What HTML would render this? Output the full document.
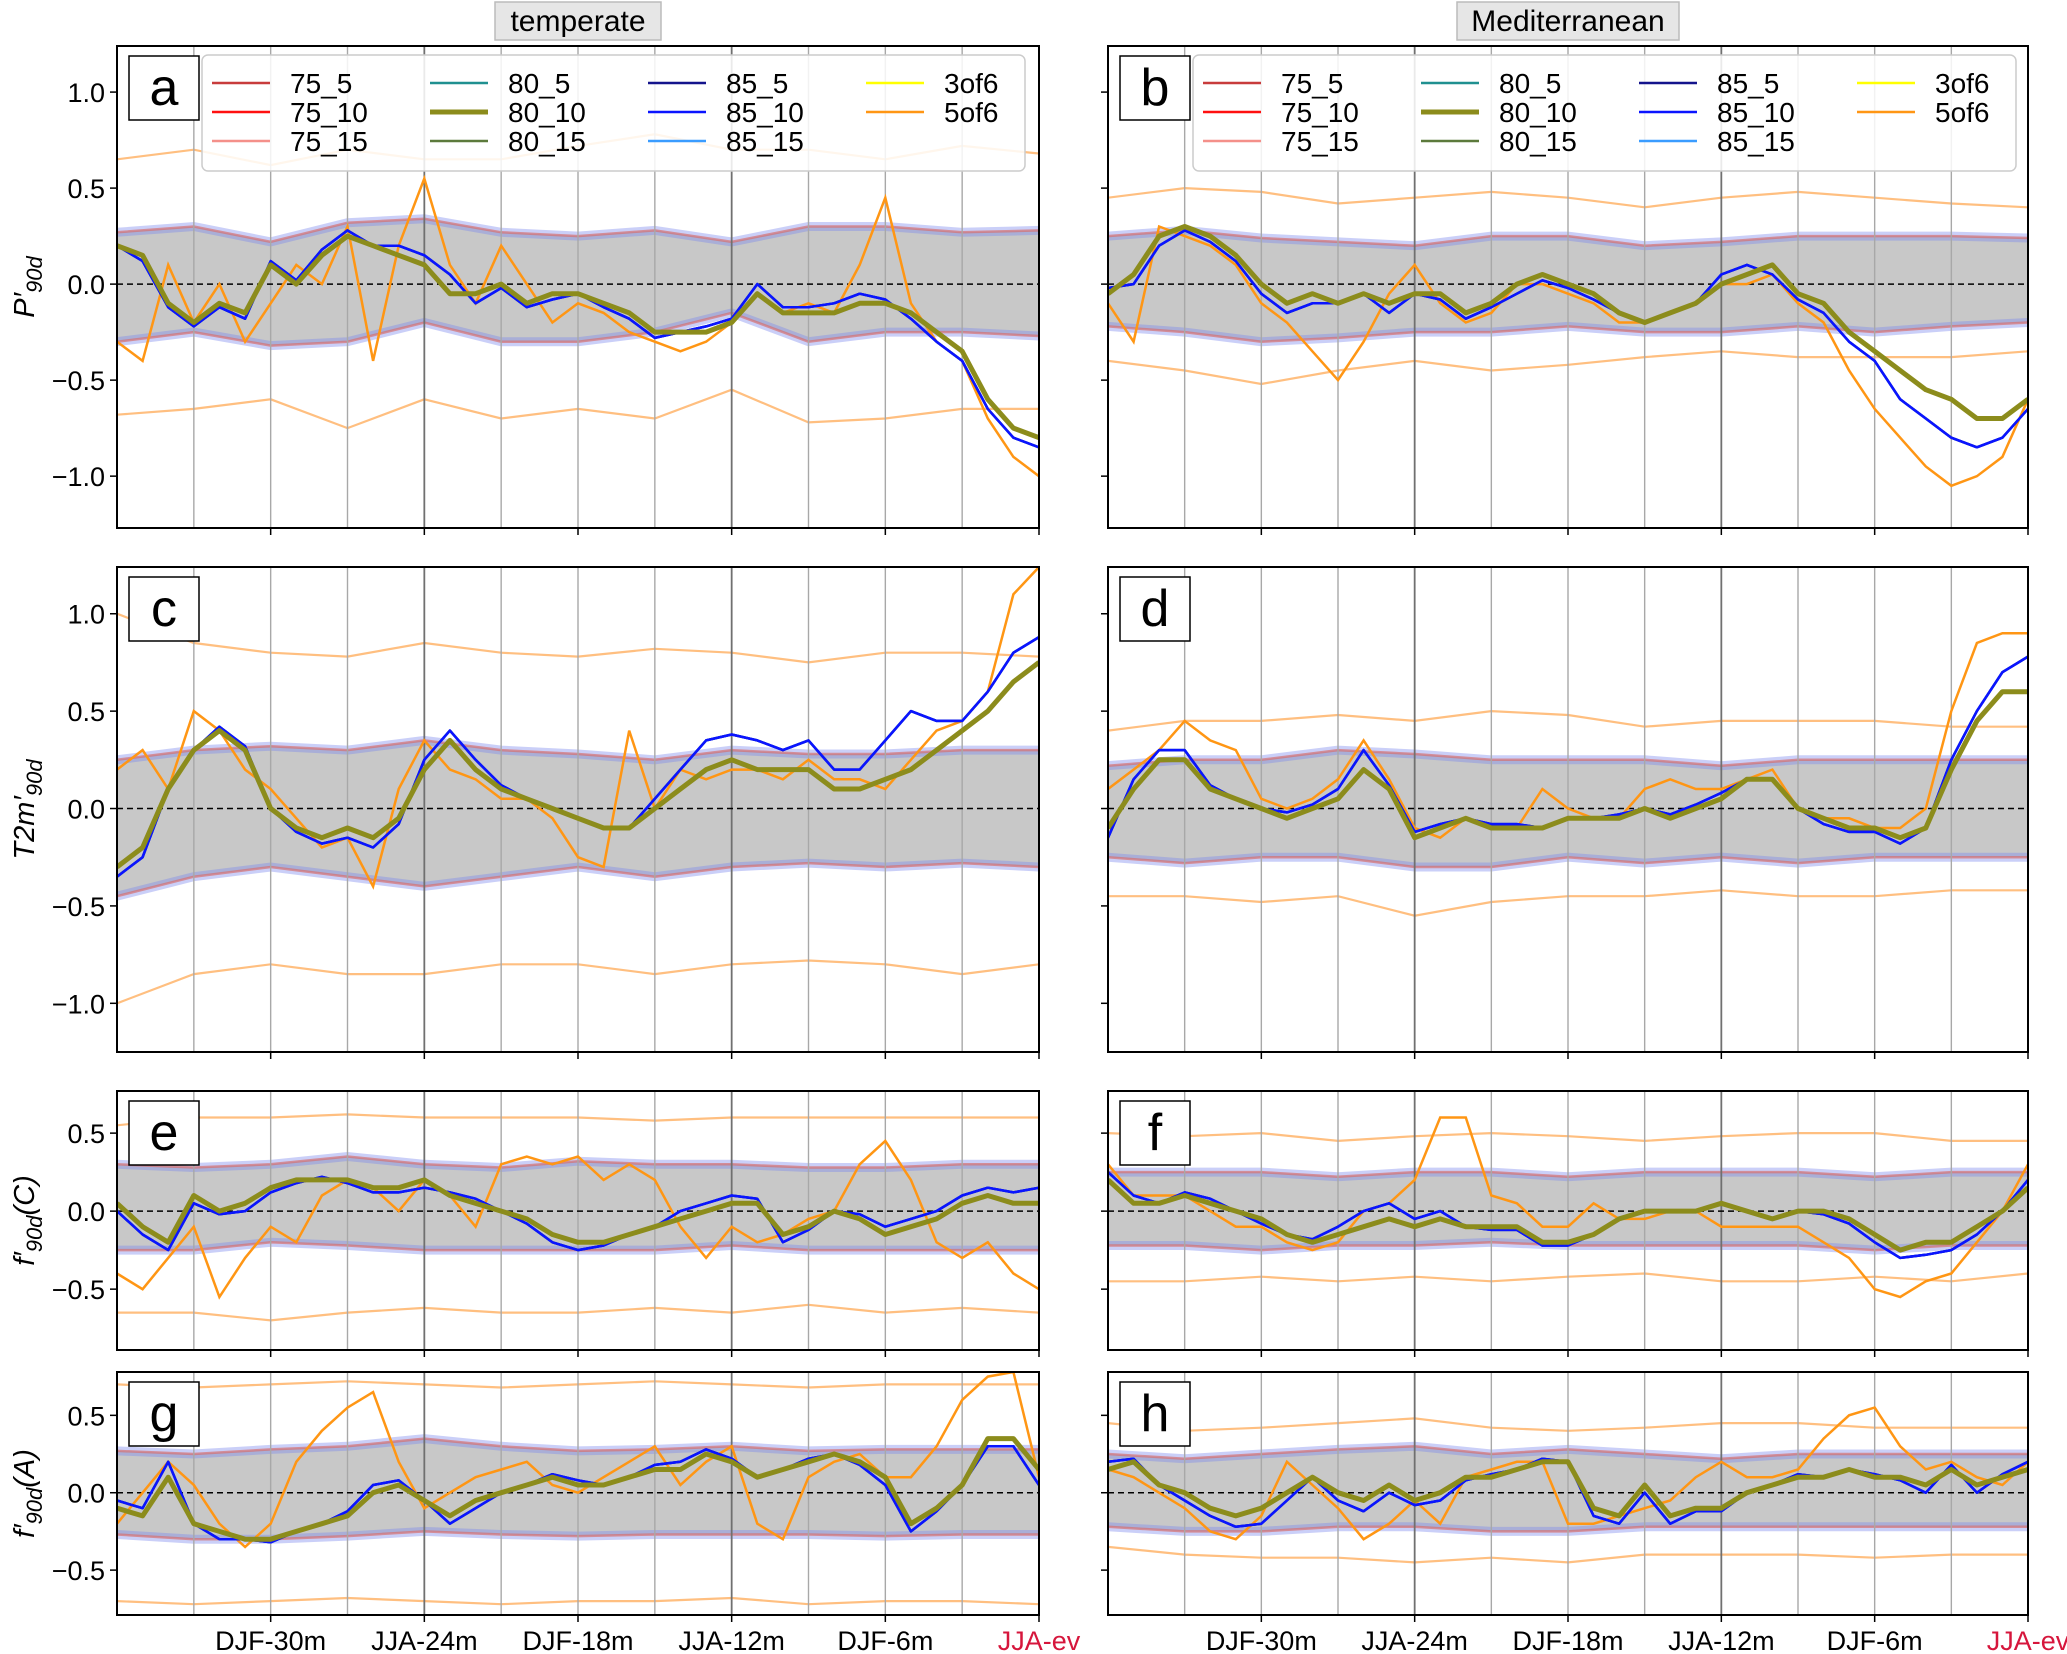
<!DOCTYPE html>
<html><head><meta charset="utf-8"><style>
html,body{margin:0;padding:0;background:#fff;}
svg{display:block;font-family:"Liberation Sans","DejaVu Sans",sans-serif;}
</style></head><body>
<svg id="fig" width="2067" height="1654" viewBox="0 0 2067 1654" xmlns="http://www.w3.org/2000/svg">
<rect x="0" y="0" width="2067" height="1654" fill="#fff"/>
<g>
<rect x="495" y="2" width="166" height="38" fill="#e6e6e6" stroke="#bbb" stroke-width="1.5"/>
<text x="578" y="31" font-size="30" text-anchor="middle" fill="#000">temperate</text></g>
<g>
<rect x="1457" y="2" width="222" height="38" fill="#e6e6e6" stroke="#bbb" stroke-width="1.5"/>
<text x="1568" y="31" font-size="30" text-anchor="middle" fill="#000">Mediterranean</text></g>
</svg>
<script>
const months = [-36,-35,-34,-33,-32,-31,-30,-29,-28,-27,-26,-25,-24,-23,-22,-21,-20,-19,-18,-17,-16,-15,-14,-13,-12,-11,-10,-9,-8,-7,-6,-5,-4,-3,-2,-1,0];
const bandMonths = [-36,-33,-30,-27,-24,-21,-18,-15,-12,-9,-6,-3,0];
const xTickMonths = [-30,-24,-18,-12,-6,0];
const xTickLabels = ["DJF-30m","JJA-24m","DJF-18m","JJA-12m","DJF-6m","JJA-ev"];
const gridMonths = [-33,-30,-27,-24,-21,-18,-15,-12,-9,-6,-3];
const darkGridMonths = [-24,-12];

const mainA = [0.2,0.15,-0.1,-0.2,-0.1,-0.15,0.1,0.0,0.15,0.25,0.2,0.15,0.1,-0.05,-0.05,0.0,-0.1,-0.05,-0.05,-0.1,-0.15,-0.25,-0.25,-0.25,-0.2,-0.05,-0.15,-0.15,-0.15,-0.1,-0.1,-0.15,-0.25,-0.35,-0.6,-0.75,-0.8];
const altA = [0.2,0.12,-0.12,-0.22,-0.12,-0.18,0.12,0.02,0.18,0.28,0.2,0.2,0.15,0.05,-0.1,-0.02,-0.12,-0.08,-0.05,-0.12,-0.18,-0.28,-0.25,-0.22,-0.18,0.0,-0.12,-0.12,-0.1,-0.05,-0.08,-0.18,-0.3,-0.4,-0.65,-0.8,-0.85];
const orangeA = [-0.3,-0.4,0.1,-0.2,0.0,-0.3,-0.1,0.1,0.0,0.3,-0.4,0.2,0.55,0.1,-0.1,0.2,0.0,-0.2,-0.1,-0.15,-0.25,-0.3,-0.35,-0.3,-0.2,-0.05,-0.15,-0.1,-0.15,0.1,0.45,-0.1,-0.3,-0.4,-0.7,-0.9,-1.0];
const bandHiA = [0.27,0.3,0.22,0.32,0.34,0.27,0.25,0.28,0.22,0.3,0.3,0.27,0.28];
const bandLoA = [-0.3,-0.25,-0.32,-0.3,-0.2,-0.3,-0.3,-0.25,-0.15,-0.3,-0.25,-0.25,-0.27];
const envHiA = [0.65,0.7,0.62,0.7,0.65,0.65,0.72,0.78,0.7,0.7,0.65,0.72,0.68];
const envLoA = [-0.68,-0.65,-0.6,-0.75,-0.6,-0.7,-0.65,-0.7,-0.55,-0.72,-0.7,-0.65,-0.65];

const mainB = [-0.05,0.05,0.25,0.3,0.25,0.15,0.0,-0.1,-0.05,-0.1,-0.05,-0.1,-0.05,-0.05,-0.15,-0.1,0.0,0.05,0.0,-0.05,-0.15,-0.2,-0.15,-0.1,0.0,0.05,0.1,-0.05,-0.1,-0.25,-0.35,-0.45,-0.55,-0.6,-0.7,-0.7,-0.6];
const altB = [-0.02,0.0,0.2,0.28,0.22,0.12,-0.05,-0.15,-0.1,-0.1,-0.05,-0.15,-0.05,-0.08,-0.18,-0.12,-0.05,0.02,-0.02,-0.08,-0.15,-0.2,-0.15,-0.1,0.05,0.1,0.05,-0.08,-0.15,-0.3,-0.4,-0.6,-0.7,-0.8,-0.85,-0.8,-0.65];
const orangeB = [-0.1,-0.3,0.3,0.25,0.2,0.1,-0.1,-0.2,-0.35,-0.5,-0.3,-0.05,0.1,-0.1,-0.2,-0.15,0.0,0.0,-0.05,-0.1,-0.2,-0.2,-0.15,-0.1,0.0,0.0,0.05,-0.1,-0.2,-0.45,-0.65,-0.8,-0.95,-1.05,-1.0,-0.9,-0.6];
const bandHiB = [0.25,0.28,0.24,0.22,0.2,0.25,0.25,0.2,0.22,0.25,0.25,0.25,0.24];
const bandLoB = [-0.22,-0.25,-0.3,-0.28,-0.25,-0.25,-0.22,-0.25,-0.25,-0.22,-0.25,-0.22,-0.2];
const envHiB = [0.45,0.5,0.48,0.42,0.45,0.48,0.45,0.4,0.45,0.48,0.45,0.42,0.4];
const envLoB = [-0.4,-0.45,-0.52,-0.45,-0.4,-0.45,-0.42,-0.38,-0.35,-0.38,-0.38,-0.38,-0.35];

const mainC = [-0.3,-0.2,0.1,0.3,0.4,0.3,0.0,-0.1,-0.15,-0.1,-0.15,-0.05,0.2,0.35,0.2,0.1,0.05,0.0,-0.05,-0.1,-0.1,0.0,0.1,0.2,0.25,0.2,0.2,0.2,0.1,0.1,0.15,0.2,0.3,0.4,0.5,0.65,0.75];
const altC = [-0.35,-0.25,0.1,0.3,0.42,0.32,0.0,-0.12,-0.18,-0.15,-0.2,-0.08,0.25,0.4,0.25,0.12,0.05,0.0,-0.05,-0.1,-0.1,0.05,0.2,0.35,0.38,0.35,0.3,0.35,0.2,0.2,0.35,0.5,0.45,0.45,0.6,0.8,0.88];
const orangeC = [0.2,0.3,0.1,0.5,0.4,0.2,0.1,-0.05,-0.2,-0.15,-0.4,0.1,0.35,0.2,0.15,0.05,0.05,-0.05,-0.25,-0.3,0.4,0.0,0.2,0.15,0.2,0.2,0.15,0.25,0.15,0.15,0.1,0.25,0.4,0.45,0.6,1.1,1.24];
const bandHiC = [0.25,0.3,0.32,0.3,0.35,0.3,0.28,0.25,0.3,0.28,0.28,0.3,0.3];
const bandLoC = [-0.45,-0.35,-0.3,-0.35,-0.4,-0.35,-0.3,-0.35,-0.3,-0.28,-0.3,-0.28,-0.3];
const envHiC = [1.0,0.85,0.8,0.78,0.85,0.8,0.78,0.82,0.8,0.75,0.8,0.8,0.78];
const envLoC = [-1.0,-0.85,-0.8,-0.85,-0.85,-0.8,-0.8,-0.85,-0.8,-0.78,-0.8,-0.85,-0.8];

const mainD = [-0.1,0.1,0.25,0.25,0.1,0.05,0.0,-0.05,0.0,0.05,0.2,0.1,-0.15,-0.1,-0.05,-0.1,-0.1,-0.1,-0.05,-0.05,-0.05,0.0,-0.05,0.0,0.05,0.15,0.15,0.0,-0.05,-0.1,-0.1,-0.15,-0.1,0.2,0.45,0.6,0.6];
const altD = [-0.15,0.15,0.3,0.3,0.12,0.05,0.0,-0.02,0.02,0.1,0.3,0.12,-0.12,-0.08,-0.05,-0.08,-0.08,-0.1,-0.05,-0.05,-0.03,0.0,-0.03,0.02,0.08,0.15,0.15,0.0,-0.08,-0.12,-0.12,-0.18,-0.1,0.25,0.5,0.7,0.78];
const orangeD = [0.1,0.2,0.3,0.45,0.35,0.3,0.05,0.0,0.05,0.15,0.35,0.15,-0.1,-0.15,-0.05,-0.1,-0.1,0.1,0.0,-0.05,-0.05,0.1,0.15,0.1,0.1,0.15,0.2,0.0,-0.05,-0.05,-0.1,-0.1,0.0,0.5,0.85,0.9,0.9];
const bandHiD = [0.22,0.25,0.25,0.3,0.28,0.25,0.25,0.25,0.22,0.25,0.25,0.25,0.25];
const bandLoD = [-0.25,-0.28,-0.25,-0.25,-0.3,-0.3,-0.25,-0.28,-0.25,-0.28,-0.25,-0.25,-0.25];
const envHiD = [0.4,0.45,0.45,0.48,0.45,0.5,0.48,0.42,0.45,0.45,0.45,0.42,0.42];
const envLoD = [-0.45,-0.45,-0.48,-0.45,-0.55,-0.48,-0.45,-0.45,-0.42,-0.45,-0.45,-0.42,-0.42];

const mainE = [0.05,-0.1,-0.2,0.1,0.0,0.05,0.15,0.2,0.2,0.2,0.15,0.15,0.2,0.1,0.05,0.0,-0.05,-0.15,-0.2,-0.2,-0.15,-0.1,-0.05,0.0,0.05,0.05,-0.15,-0.1,0.0,-0.05,-0.15,-0.1,-0.05,0.05,0.1,0.05,0.05];
const altE = [0.0,-0.15,-0.25,0.05,-0.02,0.0,0.12,0.18,0.22,0.18,0.12,0.12,0.15,0.12,0.08,0.0,-0.08,-0.2,-0.25,-0.22,-0.15,-0.1,0.0,0.05,0.1,0.08,-0.2,-0.12,0.0,-0.02,-0.1,-0.05,0.0,0.1,0.15,0.12,0.15];
const orangeE = [-0.4,-0.5,-0.3,-0.1,-0.55,-0.3,-0.1,-0.2,0.1,0.2,0.15,0.0,0.2,0.1,-0.1,0.3,0.35,0.3,0.35,0.2,0.3,0.2,-0.1,-0.3,-0.1,-0.2,-0.15,-0.05,0.0,0.3,0.45,0.2,-0.2,-0.3,-0.2,-0.4,-0.5];
const bandHiE = [0.3,0.28,0.3,0.35,0.3,0.28,0.32,0.3,0.3,0.28,0.28,0.3,0.3];
const bandLoE = [-0.25,-0.25,-0.2,-0.22,-0.25,-0.25,-0.25,-0.25,-0.22,-0.25,-0.25,-0.25,-0.25];
const envHiE = [0.55,0.6,0.6,0.62,0.6,0.6,0.6,0.58,0.6,0.6,0.6,0.6,0.6];
const envLoE = [-0.65,-0.65,-0.7,-0.65,-0.62,-0.65,-0.65,-0.62,-0.65,-0.6,-0.65,-0.62,-0.65];

const mainF = [0.2,0.05,0.05,0.1,0.05,0.0,-0.05,-0.15,-0.2,-0.15,-0.1,-0.05,-0.1,-0.05,-0.1,-0.1,-0.1,-0.2,-0.2,-0.15,-0.05,0.0,0.0,0.0,0.05,0.0,-0.05,0.0,0.0,-0.05,-0.15,-0.25,-0.2,-0.2,-0.1,0.0,0.15];
const altF = [0.25,0.1,0.05,0.12,0.08,0.0,-0.08,-0.15,-0.18,-0.1,0.0,0.05,-0.05,0.0,-0.1,-0.12,-0.12,-0.22,-0.22,-0.15,-0.05,0.0,0.0,0.0,0.05,0.0,-0.05,0.0,-0.02,-0.08,-0.2,-0.3,-0.28,-0.25,-0.15,0.0,0.2];
const orangeF = [0.3,0.1,0.1,0.1,0.0,-0.1,-0.1,-0.2,-0.25,-0.2,0.0,0.05,0.2,0.6,0.6,0.1,0.05,-0.1,-0.1,0.05,-0.05,-0.05,0.0,0.0,-0.1,-0.1,-0.1,-0.1,-0.2,-0.3,-0.5,-0.55,-0.45,-0.4,-0.2,0.0,0.3];
const bandHiF = [0.25,0.25,0.25,0.22,0.25,0.25,0.22,0.25,0.25,0.25,0.22,0.25,0.25];
const bandLoF = [-0.22,-0.22,-0.25,-0.22,-0.22,-0.2,-0.22,-0.22,-0.22,-0.22,-0.25,-0.22,-0.22];
const envHiF = [0.5,0.48,0.5,0.45,0.48,0.5,0.48,0.45,0.48,0.5,0.5,0.45,0.45];
const envLoF = [-0.45,-0.45,-0.42,-0.45,-0.42,-0.45,-0.42,-0.4,-0.45,-0.45,-0.42,-0.45,-0.4];

const mainG = [-0.1,-0.15,0.1,-0.2,-0.25,-0.3,-0.3,-0.25,-0.2,-0.15,0.0,0.05,-0.05,-0.15,-0.05,0.0,0.05,0.1,0.05,0.05,0.1,0.15,0.15,0.25,0.2,0.1,0.15,0.2,0.25,0.2,0.1,-0.2,-0.1,0.05,0.35,0.35,0.15];
const altG = [-0.05,-0.1,0.2,-0.2,-0.3,-0.3,-0.32,-0.25,-0.2,-0.12,0.05,0.08,-0.05,-0.2,-0.1,0.0,0.05,0.12,0.08,0.05,0.1,0.18,0.2,0.28,0.22,0.1,0.15,0.22,0.25,0.18,0.05,-0.25,-0.12,0.05,0.3,0.3,0.05];
const orangeG = [-0.2,0.0,0.2,0.05,-0.2,-0.35,-0.2,0.2,0.4,0.55,0.65,0.2,-0.1,0.0,0.1,0.15,0.2,0.05,0.0,0.1,0.2,0.3,0.05,0.2,0.3,-0.2,-0.3,0.1,0.2,0.25,0.1,0.1,0.3,0.6,0.75,0.78,0.1];
const bandHiG = [0.27,0.25,0.28,0.3,0.35,0.3,0.27,0.28,0.3,0.27,0.28,0.28,0.28];
const bandLoG = [-0.27,-0.3,-0.3,-0.28,-0.25,-0.27,-0.28,-0.27,-0.27,-0.27,-0.28,-0.27,-0.27];
const envHiG = [0.7,0.68,0.7,0.72,0.7,0.68,0.7,0.72,0.7,0.68,0.7,0.7,0.7];
const envLoG = [-0.7,-0.72,-0.7,-0.68,-0.7,-0.72,-0.7,-0.7,-0.68,-0.72,-0.7,-0.7,-0.72];

const mainH = [0.15,0.2,0.05,0.0,-0.1,-0.15,-0.1,0.0,0.1,0.0,-0.05,0.05,-0.05,0.0,0.1,0.1,0.15,0.2,0.2,-0.1,-0.15,0.05,-0.15,-0.1,-0.1,0.0,0.05,0.1,0.1,0.15,0.1,0.1,0.05,0.15,0.05,0.1,0.15];
const altH = [0.2,0.22,0.05,-0.05,-0.15,-0.22,-0.2,-0.05,0.1,-0.05,-0.12,0.0,-0.08,-0.05,0.08,0.12,0.15,0.22,0.2,-0.15,-0.2,0.0,-0.2,-0.12,-0.12,0.0,0.05,0.12,0.1,0.15,0.12,0.08,0.0,0.18,0.0,0.12,0.2];
const orangeH = [0.15,0.1,0.0,-0.1,-0.25,-0.3,-0.15,0.2,0.05,-0.1,-0.3,-0.2,-0.05,-0.2,0.1,0.15,0.2,0.2,-0.2,-0.2,-0.15,-0.1,-0.05,0.1,0.2,0.1,0.1,0.15,0.35,0.5,0.55,0.3,0.15,0.2,0.1,0.05,0.2];
const bandHiH = [0.25,0.22,0.25,0.28,0.3,0.25,0.28,0.25,0.22,0.25,0.25,0.25,0.25];
const bandLoH = [-0.22,-0.25,-0.25,-0.22,-0.22,-0.25,-0.25,-0.22,-0.22,-0.22,-0.22,-0.22,-0.22];
const envHiH = [0.45,0.4,0.42,0.45,0.48,0.42,0.4,0.42,0.45,0.45,0.42,0.42,0.42];
const envLoH = [-0.35,-0.4,-0.42,-0.42,-0.45,-0.42,-0.45,-0.4,-0.4,-0.4,-0.42,-0.4,-0.4];

const ticksBig = [-1.0,-0.5,0.0,0.5,1.0];
const ticksSmall = [-0.5,0.0,0.5];
const legendLabels = ["75_5","75_10","75_15","80_5","80_10","80_15","85_5","85_10","85_15","3of6","5of6"];

const NS = "http://www.w3.org/2000/svg";
const svg = document.getElementById('fig');
function mk(tag, attrs, parent) {
  const e = document.createElementNS(NS, tag);
  for (const k in attrs) e.setAttribute(k, attrs[k]);
  (parent || svg).appendChild(e);
  return e;
}
const colors = {"75_5":"#c83c3c","75_10":"#ff1010","75_15":"#f4908a","80_5":"#209090","80_10":"#8c8c1c","80_15":"#5c7a3c","85_5":"#14148c","85_10":"#0a14ff","85_15":"#3a9cff","3of6":"#ffff00","5of6":"#ff9614"};
const widths = {"80_10":5};

const cols = [{x0:117,x1:1039},{x0:1108,x1:2028}];
const rows = [{y0:46,y1:528,ymin:-1.27,ymax:1.24,ticks:ticksBig},
              {y0:567,y1:1052,ymin:-1.25,ymax:1.24,ticks:ticksBig},
              {y0:1091,y1:1350,ymin:-0.89,ymax:0.77,ticks:ticksSmall},
              {y0:1372,y1:1615,ymin:-0.79,ymax:0.78,ticks:ticksSmall}];
const panels = [
 {r:0,c:0,L:"a",main:mainA,alt:altA,orange:orangeA,hi:bandHiA,lo:bandLoA,eh:envHiA,el:envLoA},
 {r:0,c:1,L:"b",main:mainB,alt:altB,orange:orangeB,hi:bandHiB,lo:bandLoB,eh:envHiB,el:envLoB},
 {r:1,c:0,L:"c",main:mainC,alt:altC,orange:orangeC,hi:bandHiC,lo:bandLoC,eh:envHiC,el:envLoC},
 {r:1,c:1,L:"d",main:mainD,alt:altD,orange:orangeD,hi:bandHiD,lo:bandLoD,eh:envHiD,el:envLoD},
 {r:2,c:0,L:"e",main:mainE,alt:altE,orange:orangeE,hi:bandHiE,lo:bandLoE,eh:envHiE,el:envLoE},
 {r:2,c:1,L:"f",main:mainF,alt:altF,orange:orangeF,hi:bandHiF,lo:bandLoF,eh:envHiF,el:envLoF},
 {r:3,c:0,L:"g",main:mainG,alt:altG,orange:orangeG,hi:bandHiG,lo:bandLoG,eh:envHiG,el:envLoG},
 {r:3,c:1,L:"h",main:mainH,alt:altH,orange:orangeH,hi:bandHiH,lo:bandLoH,eh:envHiH,el:envLoH}];

panels.forEach(p => {
  const R = rows[p.r], C = cols[p.c];
  const xs = m => C.x0 + (m + 36) / 36 * (C.x1 - C.x0);
  const ys = v => R.y1 - (v - R.ymin) / (R.ymax - R.ymin) * (R.y1 - R.y0);
  const g = mk('g', {});
  
  
  const cid = 'clip' + p.L;
  const cp = mk('clipPath', {id: cid}, g);
  mk('rect', {x:C.x0, y:R.y0, width:C.x1-C.x0, height:R.y1-R.y0}, cp);
  const inner = mk('g', {'clip-path':'url(#'+cid+')'}, g);
  const line = (ms, vals) => ms.map((m,i)=> (i?'L':'M') + xs(m).toFixed(1) + ',' + ys(vals[i]).toFixed(1)).join('');
  [p.eh, p.el].forEach((arr, k) => {
    const e = mk('path', {d: line(bandMonths, arr), fill:'none', stroke:'#ffbf80', 'stroke-width':2.2}, inner);
    
    
  });
  const bandD = line(bandMonths, p.hi) + bandMonths.slice().reverse().map((m,i)=>'L'+xs(m).toFixed(1)+','+ys(p.lo[p.lo.length-1-i]).toFixed(1)).join('') + 'Z';
  const band = mk('path', {d: bandD, fill:'#c8c8c8', stroke:'none'}, inner);
  
  
  [p.hi, p.lo].forEach((arr, k) => {
    const e1 = mk('path', {d: line(bandMonths, arr), fill:'none', stroke:'#7b86ee', 'stroke-opacity':0.4, 'stroke-width':9}, inner);
    
    
    const e2 = mk('path', {d: line(bandMonths, arr), fill:'none', stroke:'#d67070', 'stroke-opacity':0.7, 'stroke-width':2.5}, inner);
    
    
  });
  gridMonths.forEach(m => {
    const dark = darkGridMonths.includes(m);
    const gl = mk('line', {x1:xs(m), x2:xs(m), y1:R.y0, y2:R.y1, stroke: dark ? '#707070' : '#a8a8a8', 'stroke-width': dark ? 1.8 : 1.4}, inner);
    
    
  });
  const zl = mk('line', {x1:C.x0, x2:C.x1, y1:ys(0), y2:ys(0), stroke:'#000', 'stroke-width':1.5, 'stroke-dasharray':'6,4'}, inner);
  
  
  const o = mk('path', {d: line(months, p.orange), fill:'none', stroke:colors["5of6"], 'stroke-width':2.5}, inner);
  
  
  const order = [["85_15","alt"],["85_5","alt"],["85_10","alt"],["75_15","main"],["75_5","main"],["75_10","main"],["80_5","main"],["80_15","main"],["3of6","main"],["80_10","main"]];
  order.forEach(([name, src]) => {
    const s = mk('path', {d: line(months, p[src]), fill:'none', stroke:colors[name], 'stroke-width': widths[name] || 2.5, 'stroke-linejoin':'round'}, inner);
    
    
  });
  const fr = mk('rect', {x:C.x0, y:R.y0, width:C.x1-C.x0, height:R.y1-R.y0, fill:'none', stroke:'#000', 'stroke-width':2}, g);
  
  
  R.ticks.forEach(t => {
    const tk = mk('line', {x1:C.x0-7, x2:C.x0, y1:ys(t), y2:ys(t), stroke:'#000', 'stroke-width':1.5}, g);
    
    
    if (p.c === 0) {
      const tl = mk('text', {x:C.x0-12, y:ys(t)+10, 'font-size':27, 'text-anchor':'end', fill:'#000'}, g);
      tl.textContent = (t < 0 ? '\u2212' : '') + Math.abs(t).toFixed(1);
      
      
    }
  });
  xTickMonths.forEach((m, i) => {
    const tk = mk('line', {x1:xs(m), x2:xs(m), y1:R.y1, y2:R.y1+7, stroke:'#000', 'stroke-width':1.5}, g);
    
    
    if (p.r === 3) {
      const tl = mk('text', {x:xs(m), y:R.y1+35, 'font-size':27, 'text-anchor':'middle', fill: m === 0 ? '#d6163c' : '#000'}, g);
      tl.textContent = xTickLabels[i];
      
      
    }
  });
  const lb = mk('g', {}, g);
  
  
  mk('rect', {x:C.x0+12, y:R.y0+10, width:70, height:64, fill:'#fff', stroke:'#000', 'stroke-width':1.5}, lb);
  const lt = mk('text', {x:C.x0+47, y:R.y0+59, 'font-size':52, 'text-anchor':'middle', fill:'#000'}, lb);
  lt.textContent = p.L;
  if (p.r === 0) {
    const lg = mk('g', {}, g);
    
    
    const lx = C.x0 + 85;
    mk('rect', {x:lx, y:R.y0+9, width:823, height:116, rx:6, fill:'#fff', 'fill-opacity':0.85, stroke:'#ccc', 'stroke-width':1.5}, lg);
    legendLabels.forEach((name, i) => {
      const col = Math.floor(i / 3), row = i % 3;
      const hx = lx + 10 + col * 218, hy = R.y0 + 37 + row * 29;
      const ent = mk('g', {}, lg);
      
      
      mk('line', {x1:hx, x2:hx+58, y1:hy, y2:hy, stroke:colors[name], 'stroke-width': widths[name] || 2.5}, ent);
      const t = mk('text', {x:hx+78, y:hy+10, 'font-size':28, fill:'#000'}, ent);
      t.textContent = name;
    });
  }
});

const yTitles = [["P","\u2032","90d",""],["T2m","\u2032","90d",""],["f","\u2032","90d","(C)"],["f","\u2032","90d","(A)"]];
yTitles.forEach((yt, i) => {
  const R = rows[i];
  const cy = (R.y0 + R.y1) / 2;
  const t = mk('text', {x:0, y:0, 'font-size':29, 'font-style':'italic', 'text-anchor':'middle', transform:'translate(34,'+cy+') rotate(-90)', fill:'#000'});
  
  
  const a = mk('tspan', {}, t); a.textContent = yt[0] + yt[1];
  const b = mk('tspan', {dy:8, 'font-size':22}, t); b.textContent = yt[2];
  if (yt[3]) { const c = mk('tspan', {dy:-8}, t); c.textContent = yt[3]; }
});
</script>
</body></html>
